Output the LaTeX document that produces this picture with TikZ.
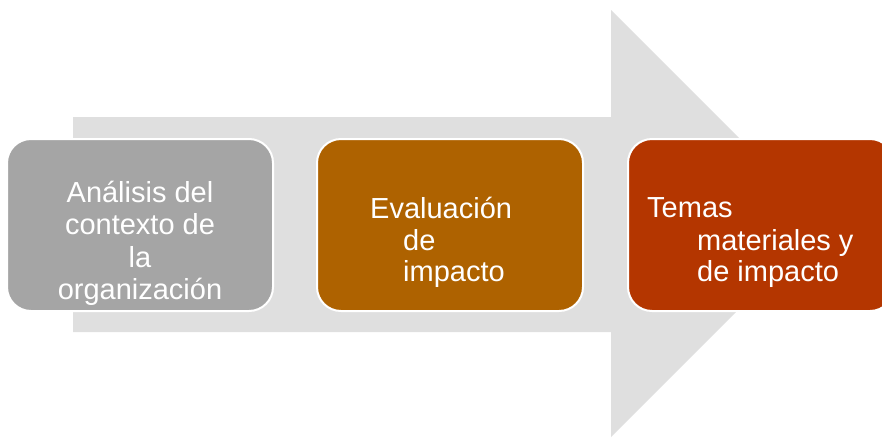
\documentclass[tikz,border=0pt]{standalone}
\usepackage{fontspec}
\setmainfont{Liberation Sans}
\definecolor{arrowgray}{RGB}{223,223,223}
\definecolor{boxgray}{RGB}{165,165,165}
\definecolor{boxorange}{RGB}{174,98,0}
\definecolor{boxred}{RGB}{180,54,0}
\begin{document}
\begin{tikzpicture}[x=1pt,y=-1pt,
  stepbox/.style={draw=white,line width=2pt,rounded corners=24pt,
    minimum width=266pt,minimum height=172pt,inner sep=0pt},
  label/.style={text=white,inner sep=0pt,font=\fontsize{29}{32}\selectfont}]
\useasboundingbox (0,0) rectangle (882,439);
\clip (0,0) rectangle (882,439);
\fill[arrowgray] (73,117) -- (611,117) -- (611,10) -- (824.5,223.5) -- (611,437) -- (611,332) -- (73,332) -- cycle;
\node[stepbox,fill=boxgray] (b1) at (140,225) {};
\node[stepbox,fill=boxorange] (b2) at (450,225) {};
\node[stepbox,fill=boxred] (b3) at (761,225) {};
\node[label,anchor=base] (t1a) at (140,202) {Análisis del};
\node[label,anchor=base] (t1b) at (140,234) {contexto de};
\node[label,anchor=base] (t1c) at (140,267) {la};
\node[label,anchor=base] (t1d) at (140,299) {organización};
\node[label,anchor=base west] (t2a) at (370,218) {Evaluación};
\node[label,anchor=base west] (t2b) at (403,250) {de};
\node[label,anchor=base west] (t2c) at (403,281) {impacto};
\node[label,anchor=base west] (t3a) at (647,217) {Temas};
\node[label,anchor=base west] (t3b) at (697,250) {materiales y};
\node[label,anchor=base west] (t3c) at (697,281) {de impacto};
\end{tikzpicture}
\end{document}
